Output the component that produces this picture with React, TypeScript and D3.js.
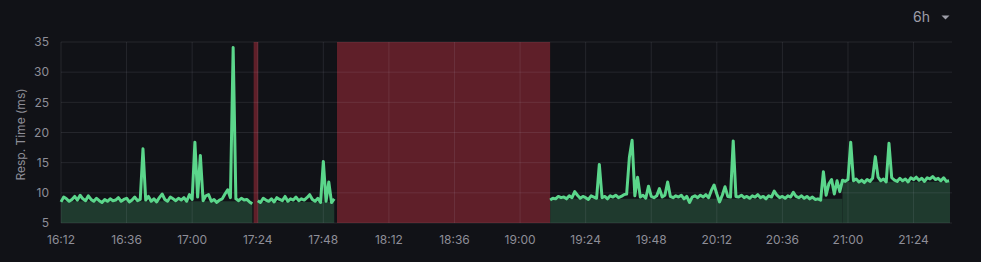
import React from "react";
import * as d3 from "d3";

// ---- data ----
const day = "2024-01-01";
const tickLabels = ["16:12", "16:36", "17:00", "17:24", "17:48", "18:12", "18:36", "19:00", "19:24", "19:48", "20:12", "20:36", "21:00", "21:24"];
const yTicks = [5, 10, 15, 20, 25, 30, 35];
const domainStart = "16:12:00";
const domainEnd = "21:37:20";

// segments of 1-minute samples (ms)
const seg1Start = "16:12";
const seg1Values = [
  8.5, 9.3, 9.0, 8.6, 8.9, 9.4, 8.8, 9.6, 9.0, 8.7, 9.5, 8.9, 8.6, 9.1, 8.7, 8.4, 8.9, 8.6, 9.0, 8.7,
  8.8, 9.2, 8.6, 8.9, 9.1, 8.5, 8.8, 9.3, 8.7, 8.9, 17.3, 8.8, 9.4, 8.6, 9.0, 8.5, 9.2, 9.8, 8.9, 8.6,
  9.3, 9.0, 8.7, 9.1, 8.8, 9.2, 8.6, 9.7, 8.9, 18.4, 9.3, 16.2, 8.7, 9.5, 9.7, 8.6, 8.9, 8.4, 8.8, 9.0,
  9.8, 10.5, 9.2, 34.1, 9.0, 8.7, 9.1, 8.8, 8.9, 8.5, 8.2,
];
const seg2Start = "17:24";
const seg2Values = [
  8.7, 8.4, 9.1, 8.8, 8.6, 9.0, 8.5, 9.2, 8.9, 8.7, 9.4, 8.6, 9.0, 8.8, 9.3, 8.7, 9.0, 8.8, 9.2, 9.7,
  8.9, 8.6, 9.1, 8.4, 15.2, 8.6, 11.8, 8.4, 9.0,
];
const seg3Start = "19:11";
const seg3Values = [
  8.8, 9.1, 9.0, 9.4, 9.2, 9.3, 9.0, 9.5, 9.2, 10.2, 9.6, 9.1, 9.4, 9.2, 8.9, 9.5, 9.3, 9.1, 14.7, 9.2,
  9.4, 9.0, 9.5, 9.3, 9.6, 9.2, 9.4, 9.7, 9.8, 15.9, 18.7, 9.5, 12.6, 9.3, 9.6, 9.1, 11.1, 9.4, 9.2, 9.5,
  10.7, 9.3, 9.6, 11.8, 9.4, 9.2, 9.5, 9.3, 9.6, 9.0, 9.4, 8.4, 9.3, 9.5, 9.2, 9.6, 9.3, 9.7, 9.2, 10.4,
  11.3, 9.8, 8.5, 9.6, 11.0, 9.4, 9.3, 18.6, 9.4, 9.3, 9.6, 9.2, 9.4, 9.1, 9.5, 9.3, 9.7, 9.2, 9.4, 9.0,
  9.5, 9.3, 10.3, 9.6, 9.2, 9.4, 9.1, 9.5, 9.3, 10.1, 9.4, 9.2, 9.5, 9.1, 9.4, 9.0, 9.3, 8.9, 9.0, 8.8,
  13.5, 9.6, 11.5, 12.2, 9.8, 12.0, 10.2, 12.1, 11.9, 12.2, 18.4, 12.0, 12.3, 11.8, 12.1, 11.7, 12.2, 11.9, 12.4, 16.0,
  12.6, 12.0, 12.3, 11.8, 18.2, 12.5, 12.1, 11.9, 12.4, 12.0, 12.3, 11.8, 12.5, 12.2, 12.6, 12.1, 12.4, 11.9, 12.5, 12.3,
  12.7, 12.2, 12.4, 12.0, 12.5, 11.9, 12.0,
];
const segmentStarts = [seg1Start, seg2Start, seg3Start];
const segmentValues = [seg1Values, seg2Values, seg3Values];

// filled baseline (lower envelope)
const fillFrom = ["16:12", "17:24", "19:11", "20:58"];
const fillTo = ["17:22", "17:52", "20:58", "21:37:20"];
const fillLevel = [8.6, 8.5, 9.0, 11.85];

// alert (red) regions
const alertFrom = ["17:22:30", "17:53:00"];
const alertTo = ["17:24:10", "19:11:00"];

const yLabel = "Resp. Time (ms)";
const rangeLabel = "6h";

// ---- helpers ----
const parse = (s: string) => {
  const p = s.split(":").map(Number);
  return new Date(`${day}T${String(p[0]).padStart(2, "0")}:${String(p[1]).padStart(2, "0")}:${String(p[2] ?? 0).padStart(2, "0")}`);
};

const W = 981;
const H = 262;
const M = { left: 61, right: 31, top: 42, bottom: 39 };

export default function App() {
  const x = d3.scaleTime().domain([parse(domainStart), parse(domainEnd)]).range([M.left, W - M.right]);
  const y = d3.scaleLinear().domain([5, 35]).range([H - M.bottom, M.top]);

  const segments = segmentStarts.map((s, si) => {
    const t0 = parse(s).getTime();
    return segmentValues[si].map((v, i) => ({ t: new Date(t0 + i * 60000), v }));
  });

  const line = d3
    .line<{ t: Date; v: number }>()
    .x((d) => x(d.t))
    .y((d) => y(d.v));

  const area = d3
    .area<{ t: Date; v: number }>()
    .x((d) => x(d.t))
    .y0(y(5))
    .y1((d) => y(d.v));

  const grid = "rgba(204,204,220,0.11)";
  const textCol = "#8e8e98";

  return (
    <svg
      width={W}
      height={H}
      style={{ position: "absolute", left: 0, top: 0, background: "#111217", fontFamily: "Inter, 'Open Sans', sans-serif" }}
    >
      <rect x={0} y={0} width={W} height={H} fill="#111217" />
      {/* fills */}
      {fillFrom.map((f, i) => (
        <path
          key={"f" + i}
          d={area([
            { t: parse(f), v: fillLevel[i] },
            { t: parse(fillTo[i]), v: fillLevel[i] },
          ])!}
          fill="#1f3a2e"
        />
      ))}
      {/* alert regions */}
      {alertFrom.map((f, i) => (
        <rect
          key={"a" + i}
          x={x(parse(f))}
          y={y(35)}
          width={x(parse(alertTo[i])) - x(parse(f))}
          height={y(5) - y(35)}
          fill="#5f1f29"
        />
      ))}
      {/* grid */}
      {yTicks.map((t) => (
        <line key={"gy" + t} x1={M.left} x2={W - M.right + 2} y1={y(t)} y2={y(t)} stroke={grid} strokeWidth={1} />
      ))}
      {tickLabels.map((l) => (
        <line key={"gx" + l} x1={x(parse(l))} x2={x(parse(l))} y1={y(35)} y2={y(5)} stroke={grid} strokeWidth={1} />
      ))}
      {/* lines */}
      {segments.map((seg, i) => (
        <path key={"l" + i} d={line(seg)!} fill="none" stroke="#5bd68b" strokeWidth={3} strokeLinejoin="round" strokeLinecap="butt" />
      ))}
      {/* axes text */}
      {yTicks.map((t) => (
        <text key={"ty" + t} x={49} y={y(t)} dy="0.35em" textAnchor="end" fontSize={12} fill={textCol}>
          {t}
        </text>
      ))}
      {tickLabels.map((l) => (
        <text key={"tx" + l} x={x(parse(l))} y={244} textAnchor="middle" fontSize={12} fill={textCol}>
          {l}
        </text>
      ))}
      <text
        transform={`translate(25,${(y(5) + y(35)) / 2 + 2}) rotate(-90)`}
        textAnchor="middle"
        fontSize={12}
        fill={textCol}
      >
        {yLabel}
      </text>
      <text x={930} y={22} textAnchor="end" fontSize={14} fill="#9d9da8">
        {rangeLabel}
      </text>
      <path d="M941.5,15.5 L949.5,15.5 L945.5,19.5 Z" fill="#9d9da8" />
    </svg>
  );
}
